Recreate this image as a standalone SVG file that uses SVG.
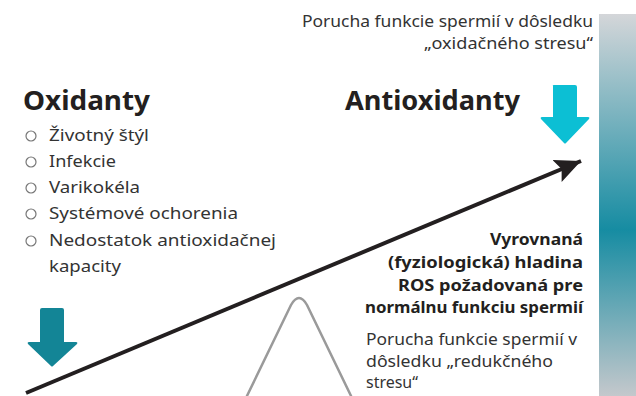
<svg xmlns="http://www.w3.org/2000/svg" width="636" height="396" viewBox="0 0 636 396">
<defs>
<linearGradient id="bar" x1="0" y1="0" x2="0" y2="1">
<stop offset="0" stop-color="#d4d6d9"/>
<stop offset="0.565" stop-color="#168ca2"/>
<stop offset="1" stop-color="#c4c8cc"/>
</linearGradient>
<marker id="ah" markerUnits="userSpaceOnUse" markerWidth="30" markerHeight="30" refX="26" refY="12" orient="auto">
<path d="M0,0 L26,12 L0,24 L5,12 Z" fill="#231f20"/>
</marker>
<style>
.t{font-family:"Noto Sans","Open Sans",sans-serif;fill:#333;}
.h{font-family:"Noto Sans","Open Sans",sans-serif;font-weight:700;font-size:26px;fill:#231f20;}
.b{font-family:"Noto Sans","Open Sans",sans-serif;font-weight:700;font-size:15.5px;fill:#231f20;}
.li{font-size:17px;}
.bul{fill:none;stroke:#777;stroke-width:1.2;}
</style>
</defs>
<rect x="0" y="0" width="636" height="396" fill="#fff"/>
<g id="bar-scale"><rect x="599" y="14" width="37" height="382" fill="url(#bar)"/></g>
<g id="oxidative-label">
<text class="t" font-size="16" text-anchor="end" x="593" y="27" textLength="291" lengthAdjust="spacingAndGlyphs">Porucha funkcie spermií v dôsledku</text>
<text class="t" font-size="16" text-anchor="end" x="593" y="49" textLength="169" lengthAdjust="spacingAndGlyphs">„oxidačného stresu“</text>
</g>
<g id="oxidanty">
<text class="h" x="23" y="110" textLength="127" lengthAdjust="spacingAndGlyphs">Oxidanty</text>
<circle class="bul" cx="31" cy="136" r="5"/><text class="t li" x="49" y="141" textLength="100" lengthAdjust="spacingAndGlyphs">Životný štýl</text>
<circle class="bul" cx="31" cy="162" r="5"/><text class="t li" x="49" y="167" textLength="67" lengthAdjust="spacingAndGlyphs">Infekcie</text>
<circle class="bul" cx="31" cy="188" r="5"/><text class="t li" x="49" y="193" textLength="91" lengthAdjust="spacingAndGlyphs">Varikokéla</text>
<circle class="bul" cx="31" cy="214" r="5"/><text class="t li" x="49" y="219" textLength="189" lengthAdjust="spacingAndGlyphs">Systémové ochorenia</text>
<circle class="bul" cx="31" cy="241" r="5"/><text class="t li" x="49" y="246" textLength="227" lengthAdjust="spacingAndGlyphs">Nedostatok antioxidačnej</text>
<text class="t li" x="49" y="272" textLength="72" lengthAdjust="spacingAndGlyphs">kapacity</text>
</g>
<g id="antioxidanty"><text class="h" x="345" y="110" textLength="175" lengthAdjust="spacingAndGlyphs">Antioxidanty</text></g>
<g id="arrow-antioxidant"><path d="M553,86 Q552,85 554,85 L575,85 Q577,85 577,87 L577,117 L588,117 Q590,117 589,119 L566,143 Q565,144 564,143 L541,119 Q540,117 542,117 L553,117 Z" fill="#0cbfd4"/></g>
<g id="arrow-oxidant"><path d="M40,310 Q40,308 42,308 L62,308 Q64,308 64,310 L64,342 L76,342 Q78,342 77,344 L53,366 Q52,367 51,366 L28,344 Q27,342 29,342 L40,342 Z" fill="#138596"/></g>
<g id="fulcrum"><path d="M245,400 L291,305 Q299,291 307,305 L353,400" fill="none" stroke="#9a9a9a" stroke-width="2.5" stroke-linejoin="round"/></g>
<g id="balanced-label">
<text class="b" text-anchor="end" x="583" y="245" textLength="93" lengthAdjust="spacingAndGlyphs">Vyrovnaná</text>
<text class="b" text-anchor="end" x="583" y="268" textLength="195" lengthAdjust="spacingAndGlyphs">(fyziologická) hladina</text>
<text class="b" text-anchor="end" x="583" y="291" textLength="185" lengthAdjust="spacingAndGlyphs">ROS požadovaná pre</text>
<text class="b" text-anchor="end" x="583" y="313" textLength="218" lengthAdjust="spacingAndGlyphs">normálnu funkciu spermií</text>
</g>
<g id="reductive-label">
<text class="t li" x="366" y="345" textLength="211" lengthAdjust="spacingAndGlyphs">Porucha funkcie spermií v</text>
<text class="t li" x="366" y="367" textLength="187" lengthAdjust="spacingAndGlyphs">dôsledku „redukčného</text>
<text class="t li" x="366" y="388" textLength="52" lengthAdjust="spacingAndGlyphs">stresu“</text>
</g>
<g id="connectors"><line x1="26" y1="393" x2="581" y2="161" stroke="#231f20" stroke-width="4" marker-end="url(#ah)"/></g>
</svg>
